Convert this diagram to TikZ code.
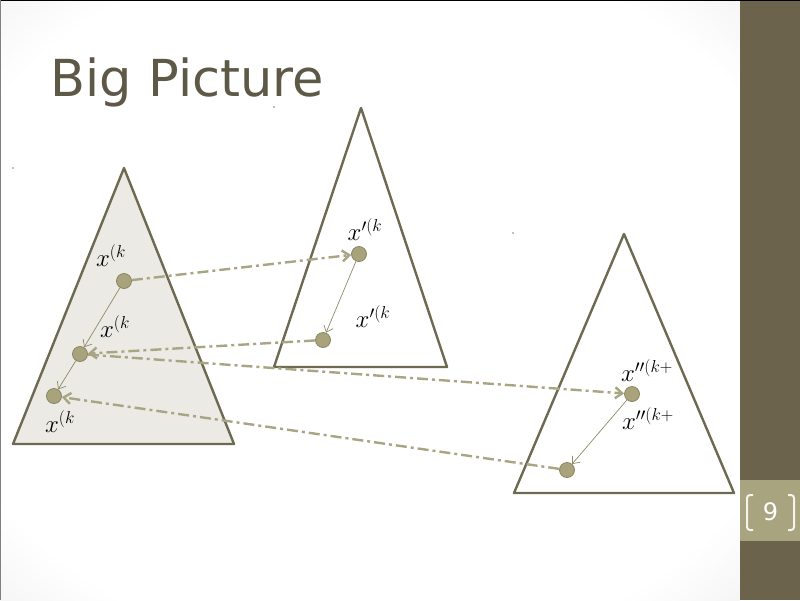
\documentclass[tikz,border=0pt]{standalone}
\usepackage{fontspec}
\newfontfamily\titlefont{DejaVu Sans}
\usepackage{tkz-euclide}
\usetikzlibrary{arrows.meta}

\definecolor{frameolive}{HTML}{6E6A52}
\definecolor{treefill}{HTML}{ECEAE4}
\definecolor{dotolive}{HTML}{A9A37C}
\definecolor{dotrim}{HTML}{8A8562}
\definecolor{walkcol}{HTML}{8E8A68}
\definecolor{dashline}{HTML}{A8A584}
\definecolor{sidebar}{HTML}{6B634B}
\definecolor{numbox}{HTML}{A8A47F}
\definecolor{titlecol}{HTML}{5E5847}
\definecolor{bracketcol}{HTML}{F4F3EC}

\pgfdeclareradialshading{slidebg}{\pgfpoint{0bp}{0bp}}%
  {color(0bp)=(white); color(30bp)=(white); color(50bp)=(black!14)}

\begin{document}
\begin{tikzpicture}[x=1pt,y=-1pt,semithick,
  dot/.style={circle,draw=dotrim,fill=dotolive,line width=0.8pt,
    minimum size=15pt,inner sep=0pt},
  walk/.style={draw=walkcol,line width=0.7pt,
    -{Straight Barb[length=6pt,width=10pt]}},
  jump/.style={draw=dashline,line width=2.4pt,
    dash pattern=on 11pt off 4pt on 3pt off 4pt,
    -{Straight Barb[length=7pt,width=11pt]}},
  lab/.style={font=\fontsize{25}{28}\selectfont}]
  \useasboundingbox (0,0) rectangle (800,600);

  % slide
  \shade[shading=slidebg] (0,0) rectangle (740,600);
  \fill[sidebar] (740,0) rectangle (800,600);
  \fill[numbox] (740,480) rectangle (800,541);
  \draw[black,line width=1pt] (0,0.5) -- (800,0.5);
  \draw[gray,line width=1pt] (0.5,0) -- (0.5,600);

  \node[anchor=base west,text=titlecol,
    font=\titlefont\fontsize{51}{60}\selectfont] (title) at (47,96) {Big Picture};

  \draw[bracketcol,line width=2pt,rounded corners=3pt]
    (753,495) -- (747,495) -- (747,530) -- (753,530);
  \draw[bracketcol,line width=2pt,rounded corners=3pt]
    (788,495) -- (794,495) -- (794,530) -- (788,530);
  \node[text=white,font=\titlefont\fontsize{24}{28}\selectfont] (pagenum) at (770.5,512) {9};

  % trees
  \tkzDefPoints{124/168/A, 13/444/B, 234/444/C}
  \tkzDefPoints{361/108/D, 274/367/E, 447/367/F}
  \tkzDefPoints{624/234/G, 514/493/H, 734/493/I}

  \tkzDrawPolygon[frameolive,line width=2.4pt,fill=treefill](A,B,C)
  \tkzDrawPolygon[frameolive,line width=2.4pt](D,E,F)
  \tkzDrawPolygon[frameolive,line width=2.4pt](G,H,I)

  \fill[gray] (13,168) circle (0.8);
  \fill[gray] (274,107) circle (0.8);
  \fill[gray] (513,233) circle (0.8);

  % states
  \node[dot] (a1) at (124,281) {};
  \node[dot] (a2) at (80,354) {};
  \node[dot] (a3) at (54,396) {};
  \node[dot] (b1) at (359,254) {};
  \node[dot] (b2) at (323,340) {};
  \node[dot] (c1) at (632,394) {};
  \node[dot] (c2) at (567,470) {};

  \node[lab] (la1) at (111,256) {$x^{(k}$};
  \node[lab] (la2) at (115,327) {$x^{(k}$};
  \node[lab] (la3) at (60,422) {$x^{(k}$};
  \node[lab] (lb1) at (365,230) {$x'^{(k}$};
  \node[lab] (lb2) at (373,317) {$x'^{(k}$};
  \node[lab] (lc1) at (647,371) {$x''^{(k+}$};
  \node[lab] (lc2) at (648,419) {$x''^{(k+}$};

  \draw[walk] (a1) -- (a2);
  \draw[walk] (a2) -- (a3);
  \draw[walk] (b1) -- (b2);
  \draw[walk] (c1) -- (c2);

  \draw[jump] (a1) -- (b1);
  \draw[jump] (b2) -- (a2);
  \draw[jump] (a2) -- (c1);
  \draw[jump] (c2) -- (a3);

\end{tikzpicture}
\end{document}
